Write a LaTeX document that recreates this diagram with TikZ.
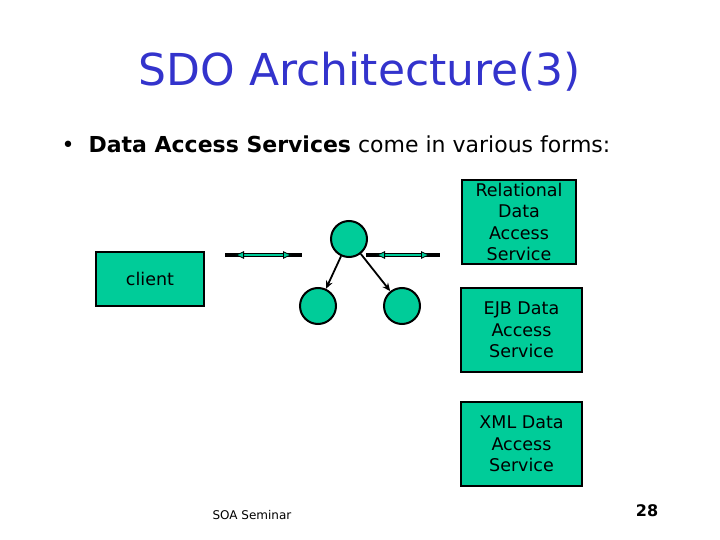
\documentclass[tikz,border=0pt]{standalone}
\usepackage{fontspec}
\setmainfont{DejaVu Sans}
\usepackage{xcolor}
\definecolor{sdogreen}{RGB}{0,204,153}
\definecolor{titleblue}{RGB}{51,51,204}
\usetikzlibrary{arrows.meta,positioning}
\tikzset{
  dasbox/.style={draw=black,line width=2pt,fill=sdogreen,%
    font=\fontsize{17.5}{21.5}\selectfont,align=center,inner sep=0pt},
  objnode/.style={circle,draw=black,line width=2pt,fill=sdogreen,%
    minimum size=36pt,inner sep=0pt},
  link/.style={-{Stealth[length=8pt,width=7pt]},line width=1.8pt},
  pipe/.style={line width=4pt,draw=black},
  pipecore/.style={{Latex[length=10pt,width=8pt,fill=sdogreen,color=black,line width=0.8pt]}-%
    {Latex[length=10pt,width=8pt,fill=sdogreen,color=black,line width=0.8pt]},%
    line width=1.8pt,draw=sdogreen,shorten <=9pt,shorten >=9pt},
}

\begin{document}
\begin{tikzpicture}[x=1pt,y=-1pt]
\useasboundingbox (0,0) rectangle (720,540);
% title and bullet
\node[text=titleblue,font=\fontsize{44}{50}\selectfont] (title) at (360,72) {SDO Architecture(3)};
\node[anchor=west,font=\fontsize{22}{26}\selectfont] (intro) at (58,144)
  {\textbullet\hspace{14pt}\textbf{Data Access Services} come in various forms:};
% boxes
\node[dasbox,minimum width=108pt,minimum height=54pt] (client) at (150,279) {client};
\node[dasbox,minimum width=114pt,minimum height=84pt] (rdas) at (519,222) {Relational\\Data\\Access\\Service};
\node[dasbox,minimum width=121pt,minimum height=84pt] (edas) at (521.5,330) {EJB Data\\Access\\ Service};
\node[dasbox,minimum width=121pt,minimum height=84pt] (xdas) at (521.5,444) {XML Data\\Access\\ Service};
% data objects
\node[objnode] (root) at (349,239) {};
\node[objnode] (left) at (318,306) {};
\node[objnode] (right) at (402,306) {};
\draw[link] (root) -- (left);
\draw[link] (root) -- (right);
% double arrows
\coordinate (p1a) at (225,255);
\coordinate (p1b) at (302,255);
\coordinate (p2a) at (366,255);
\coordinate (p2b) at (440,255);
\draw[pipe] (p1a) -- (p1b);
\draw[pipecore] (p1a) -- (p1b);
\draw[pipe] (p2a) -- (p2b);
\draw[pipecore] (p2a) -- (p2b);
% footer
\node[anchor=west,font=\fontsize{12}{14}\selectfont] (footer) at (209,515) {SOA Seminar};
\node[font=\bfseries\fontsize{16}{18}\selectfont] (pageno) at (647,511) {28};
\end{tikzpicture}
\end{document}
